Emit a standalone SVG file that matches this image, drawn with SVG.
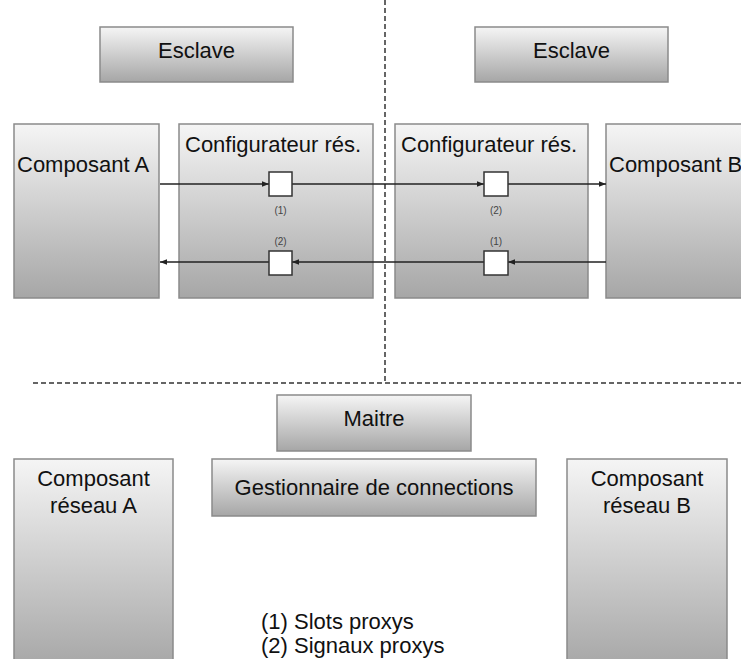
<svg xmlns="http://www.w3.org/2000/svg" width="741" height="659" viewBox="0 0 741 659">
<defs>
<linearGradient id="g" x1="0" y1="0" x2="0" y2="1">
<stop offset="0" stop-color="#f5f5f5"/>
<stop offset="1" stop-color="#a6a6a6"/>
</linearGradient>
<marker id="ah" viewBox="0 0 10 10" refX="10" refY="5" markerWidth="7" markerHeight="7" orient="auto" markerUnits="userSpaceOnUse">
<path d="M0,1 L10,5 L0,9 Z" fill="#222"/>
</marker>
</defs>
<style>
.box{fill:url(#g);stroke:#8a8a8a;stroke-width:1.5}
.slot{fill:#fff;stroke:#333;stroke-width:1.5}
.t{font-family:"Liberation Sans",Arial,sans-serif;font-size:22px;fill:#111}
.s{font-family:"Liberation Sans",Arial,sans-serif;font-size:10px;fill:#444;text-anchor:middle}
.c{text-anchor:middle}
.ln{stroke:#222;stroke-width:1.3;fill:none;marker-end:url(#ah)}
.dash{stroke:#333;stroke-width:1.5;stroke-dasharray:5 3;fill:none}
</style>
<rect width="741" height="659" fill="#fff"/>
<g id="separators">
<line class="dash" x1="385" y1="0" x2="385" y2="381"/>
<line class="dash" x1="33" y1="383" x2="741" y2="383"/>
</g>
<g id="esclave-left"><rect class="box" x="100" y="27" width="193" height="55"/><text class="t c" x="196.5" y="58">Esclave</text></g>
<g id="esclave-right"><rect class="box" x="475" y="27" width="193" height="55"/><text class="t c" x="571.5" y="58">Esclave</text></g>
<g id="composant-a"><rect class="box" x="14" y="124" width="145" height="174"/><text class="t" x="17" y="172">Composant A</text></g>
<g id="config-left"><rect class="box" x="179" y="124" width="194" height="174"/><text class="t" x="185" y="152">Configurateur rés.</text></g>
<g id="config-right"><rect class="box" x="395" y="124" width="193" height="174"/><text class="t" x="401" y="152">Configurateur rés.</text></g>
<g id="composant-b"><rect class="box" x="606" y="124" width="145" height="174"/><text class="t" x="609" y="172">Composant B</text></g>
<g id="connectors">
<line class="ln" x1="160" y1="184" x2="269" y2="184"/>
<line class="ln" x1="292" y1="184" x2="484" y2="184"/>
<line class="ln" x1="508" y1="184" x2="606" y2="184"/>
<line class="ln" x1="606" y1="262" x2="508" y2="262"/>
<line class="ln" x1="484" y1="262" x2="292" y2="262"/>
<line class="ln" x1="269" y1="262" x2="160" y2="262"/>
</g>
<g id="slot-l1"><rect class="slot" x="269" y="172" width="23" height="24"/><text class="s" x="280.5" y="214">(1)</text></g>
<g id="slot-l2"><rect class="slot" x="269" y="251" width="23" height="24"/><text class="s" x="280.5" y="245">(2)</text></g>
<g id="slot-r1"><rect class="slot" x="484" y="172" width="24" height="24"/><text class="s" x="496" y="214">(2)</text></g>
<g id="slot-r2"><rect class="slot" x="484" y="251" width="24" height="24"/><text class="s" x="496" y="245">(1)</text></g>
<g id="maitre"><rect class="box" x="277" y="395" width="194" height="56"/><text class="t c" x="374" y="426">Maitre</text></g>
<g id="gestionnaire"><rect class="box" x="212" y="459" width="324" height="57"/><text class="t c" x="374" y="495">Gestionnaire de connections</text></g>
<g id="reseau-a"><rect class="box" x="14" y="459" width="159" height="210"/><text class="t c" x="93.5" y="486">Composant</text><text class="t c" x="93.5" y="513">réseau A</text></g>
<g id="reseau-b"><rect class="box" x="567" y="459" width="160" height="210"/><text class="t c" x="647" y="486">Composant</text><text class="t c" x="647" y="513">réseau B</text></g>
<g id="legend"><text class="t" x="261" y="629" font-size="21">(1) Slots proxys</text><text class="t" x="261" y="653" font-size="21">(2) Signaux proxys</text></g>
</svg>
